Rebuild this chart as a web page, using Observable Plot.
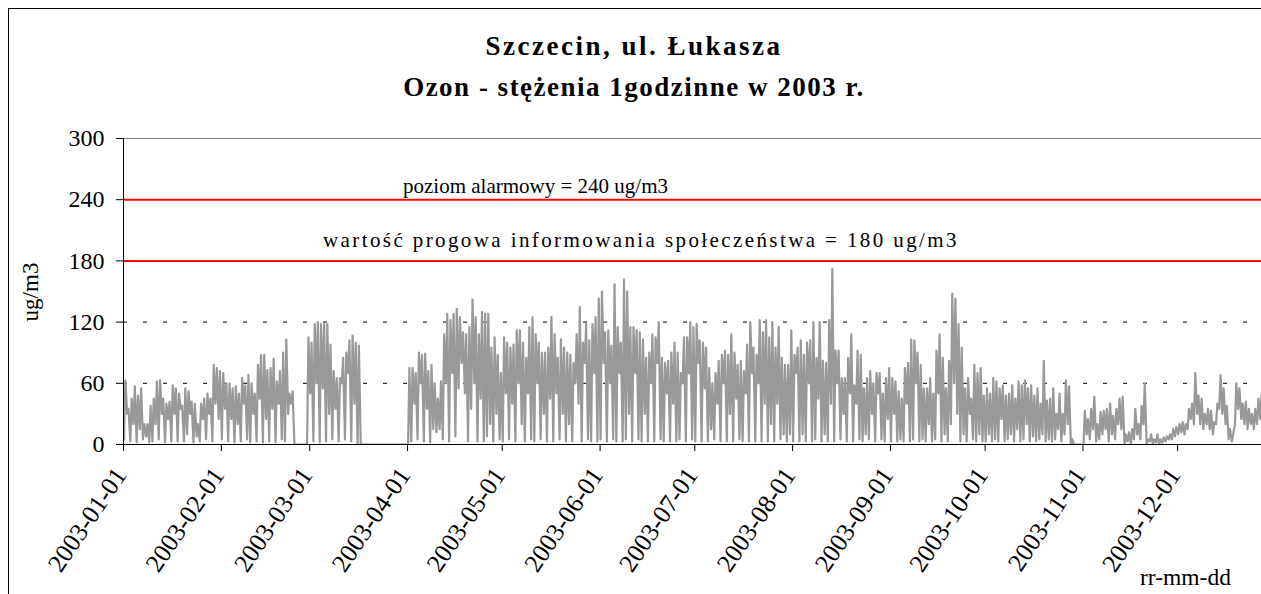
<!DOCTYPE html>
<html>
<head>
<meta charset="utf-8">
<script src="https://cdn.jsdelivr.net/npm/d3@7"></script>
<script src="https://cdn.jsdelivr.net/npm/@observablehq/plot@0.6"></script>
<style>
  html, body { margin: 0; padding: 0; background: #fff; overflow: hidden; }
  #wrap { position: relative; width: 1261px; height: 594px; overflow: hidden; font-family: "Liberation Serif", "Times New Roman", serif; }
  #frame { position: absolute; left: 8px; top: 8px; width: 1400px; height: 700px; border-left: 1px solid #000; border-top: 1px solid #000; }
  .t { position: absolute; white-space: nowrap; color: #000; }
  .title { left: 0; width: 1268px; text-align: center; font-weight: bold; font-size: 27px; letter-spacing: 1.5px; }
  .note { font-size: 21px; }
  #chart { position: absolute; left: 0; top: 0; width: 1275px; }
  #chart svg { max-width: none !important; }
</style>
</head>
<body>
<div id="wrap">
  <div id="frame"></div>
  <div id="chart"></div>
  <div class="t title" style="top:31px; letter-spacing:2.5px">Szczecin, ul. Łukasza</div>
  <div class="t title" style="top:72px">Ozon - stężenia 1godzinne w 2003 r.</div>
  <div class="t note" style="left:403px; top:174px">poziom alarmowy = 240 ug/m3</div>
  <div class="t note" style="left:323px; top:228px; letter-spacing:2.4px">wartość progowa informowania społeczeństwa = 180 ug/m3</div>
  <div class="t note" style="left:0px; top:278px; width:64px; font-size:23px; transform: rotate(-90deg); transform-origin: 32px 14px; text-align:center;">ug/m3</div>
  <div class="t note" style="left:1140px; top:564px; font-size:23.5px">rr-mm-dd</div>
</div>
<script>
// Daily maximum and minimum hourly ozone values (ug/m3)
const janMax = [63,35,45,57,48,55,20,20,38,45,62,63,45,40,42,58,55,50,38,55,52,42,40,20,40,45,50,45,78,75,72];
const janMin = [5,30,3,20,2,15,5,8,2,3,20,5,30,2,25,3,30,3,35,3,10,30,2,8,3,25,5,30,3,40,25];
const febMax = [70,60,60,55,57,50,65,58,68,60,50,78,88,88,73,75,84,62,72,90,103,50,52,0,0,0,0,105];
const febMin = [5,35,3,25,2,20,3,40,5,2,30,3,45,2,25,3,35,2,40,5,3,30,40,0,0,0,0,0];
const marMax = [100,118,120,118,118,118,98,72,65,65,85,90,102,107,100,97,0,0,0,0,0,0,0,0,0,0,0,0,0,0,0];
const marMin = [50,3,60,2,55,3,30,5,35,3,60,5,70,3,40,0,0,0,0,0,0,0,0,0,0,0,0,0,0,0,0];
const aprMax = [75,75,70,90,88,89,72,78,60,45,62,108,128,122,128,133,125,110,108,115,142,125,108,130,128,128,95,105,88,70];
const aprMin = [0,3,40,5,60,3,35,2,15,12,15,5,60,3,70,8,55,80,50,3,35,60,3,45,3,8,20,3,30,5];
const mayMax = [105,100,95,98,112,112,100,85,115,125,108,100,90,90,95,125,108,85,103,95,90,88,80,108,135,100,118,102,118,125,143];
const mayMin = [3,50,5,40,3,60,20,3,50,5,3,60,5,30,3,45,3,50,5,30,3,20,3,60,40,3,80,5,3,70,3];
const junMax = [150,110,112,97,157,115,100,162,150,115,115,112,110,103,85,90,108,105,120,85,80,82,90,100,90,70,105,105,120,115];
const junMin = [5,80,3,60,5,3,70,3,5,30,3,70,5,3,30,3,60,3,80,5,3,50,3,40,3,5,60,3,70,5];
const julMax = [118,102,100,95,75,60,70,82,88,92,88,108,90,78,82,72,98,120,95,88,122,110,122,105,120,95,115,85,78,78,112];
const julMin = [3,80,3,55,3,15,5,40,3,60,3,30,3,45,5,3,50,3,70,3,60,3,40,3,20,3,40,5,10,3,10];
const augMax = [88,95,102,88,100,102,120,85,120,82,80,122,172,92,92,65,65,85,108,58,92,88,55,65,72,60,70,70,50,65,75];
const augMin = [3,70,3,10,3,60,3,5,45,3,10,3,40,3,60,5,30,3,50,3,40,5,3,10,5,30,3,50,5,3,25];
const sepMax = [65,62,52,45,75,80,103,102,90,78,55,55,65,50,92,108,85,55,82,148,143,118,95,55,65,45,78,70,75,48];
const sepMin = [3,30,3,5,3,40,3,5,60,3,5,3,20,3,5,50,3,10,3,20,60,30,3,10,3,30,5,3,10,3];
const octMax = [55,50,65,62,55,58,48,50,58,45,62,58,63,55,58,48,55,40,82,43,45,55,30,50,30,63,57,5,0,0,0];
const octMin = [3,10,3,5,3,25,3,5,10,3,15,3,5,20,3,8,3,5,10,3,5,3,5,15,3,10,20,0,0,0,0];
const novMax = [33,25,35,47,20,32,33,35,40,28,35,45,47,10,12,15,35,20,38,60,5,10,5,10,5,7,8,10,15,17];
const novMin = [0,10,5,15,3,5,10,15,3,10,5,20,15,0,3,0,5,10,5,20,0,3,0,2,0,2,3,5,5,8];
const decMax = [20,22,20,35,40,70,48,45,30,35,33,22,40,68,55,38,15,10,60,55,40,42,35,30,35,45,48];
const decMin = [10,12,10,15,25,20,30,20,15,20,15,10,20,35,30,20,5,3,20,35,25,20,15,20,15,20,25];

const yTicks = [0, 60, 120, 180, 240, 300];
const dottedLevels = [60, 120];
const limitLevels = [180, 240];
const monthTicks = ["2003-01-01","2003-02-01","2003-03-01","2003-04-01","2003-05-01","2003-06-01",
                    "2003-07-01","2003-08-01","2003-09-01","2003-10-01","2003-11-01","2003-12-01"];

const months = [[janMax,janMin],[febMax,febMin],[marMax,marMin],[aprMax,aprMin],[mayMax,mayMin],[junMax,junMin],
                [julMax,julMin],[augMax,augMin],[sepMax,sepMin],[octMax,octMin],[novMax,novMin],[decMax,decMin]];

const series = [];
months.forEach(([mx, mn], m) => {
  mx.forEach((v, i) => {
    series.push({date: new Date(Date.UTC(2003, m, i + 1, 4)), value: mn[i]});
    series.push({date: new Date(Date.UTC(2003, m, i + 1, 14)), value: v});
  });
});

const tickDates = monthTicks.map(s => new Date(s + "T00:00:00Z"));
const start = new Date(Date.UTC(2003, 0, 1));
const end = new Date(Date.UTC(2004, 0, 1));

const chart = Plot.plot({
  width: 1275,
  height: 594,
  marginLeft: 123,
  marginRight: 0,
  marginTop: 138,
  marginBottom: 150,
  style: {fontFamily: "'Liberation Serif', 'Times New Roman', serif", fontSize: "24px", color: "#000", background: "transparent", overflow: "visible", maxWidth: "none"},
  x: {type: "utc", domain: [start, end]},
  y: {domain: [0, 300]},
  marks: [
    Plot.ruleY([300], {stroke: "#808080", strokeWidth: 1}),
    Plot.ruleY(dottedLevels, {stroke: "#000", strokeWidth: 1, strokeDasharray: "4,16"}),
    Plot.ruleY(limitLevels, {stroke: "#ff0000", strokeWidth: 2}),
    Plot.line(series, {x: "date", y: "value", stroke: "#999999", strokeWidth: 2.2, clip: true}),
    Plot.ruleY([0], {stroke: "#000", strokeWidth: 1}),
    Plot.ruleX([start], {stroke: "#000", strokeWidth: 1}),
    Plot.axisY({ticks: yTicks, tickSize: 7, tickPadding: 12, label: null, fontSize: 24, stroke: "#000"}),
    Plot.axisX({ticks: tickDates, tickSize: 7, tickFormat: () => "", label: null, stroke: "#000"}),
    Plot.text(tickDates, {x: d => d, frameAnchor: "bottom", text: d3.utcFormat("%Y-%m-%d"),
                          rotate: -56, textAnchor: "end", lineAnchor: "middle",
                          dx: -3, dy: 26, fontSize: 25.5, fill: "#000"})
  ]
});
chart.style.maxWidth = "none";
document.getElementById("chart").appendChild(chart);
</script>
</body>
</html>
